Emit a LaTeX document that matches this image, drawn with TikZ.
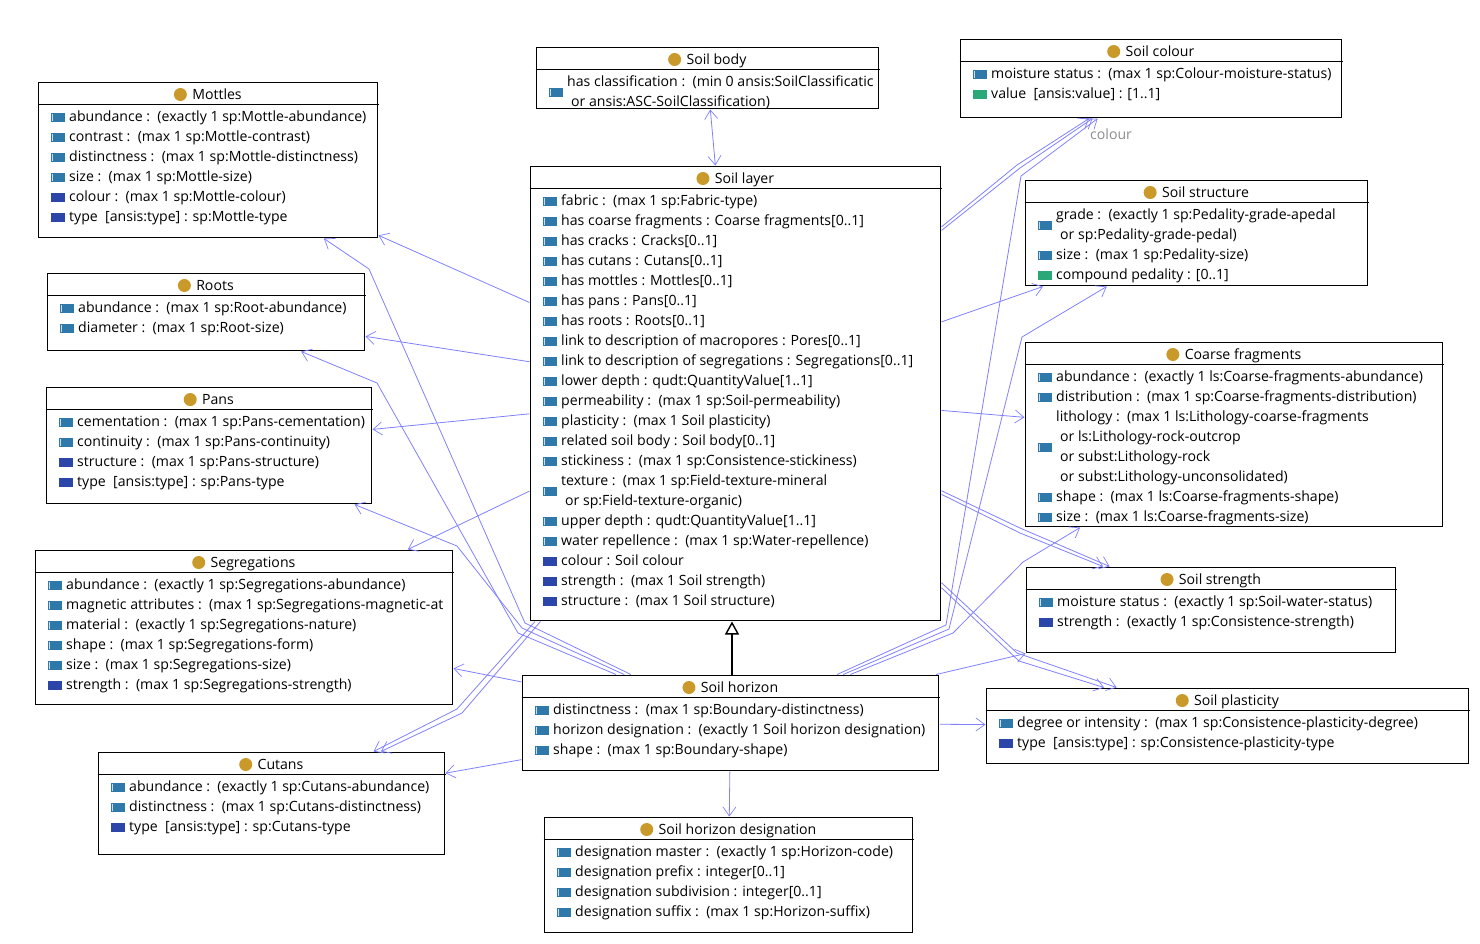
\documentclass[tikz,border=0pt]{standalone}
\usepackage{fontspec}
\setmainfont{Open Sans}
\usetikzlibrary{positioning,arrows.meta}
\definecolor{classgold}{RGB}{201,154,42}
\definecolor{propblue}{RGB}{46,120,170}
\definecolor{propdark}{RGB}{43,69,168}
\definecolor{propgreen}{RGB}{42,168,120}
\definecolor{assocline}{RGB}{128,128,255}
\tikzset{%
    umlbox/.style={draw=black, line width=1pt, inner sep=0pt, outer sep=1pt},
    umltitle/.style={inner sep=0pt, font=\fontsize{14.1}{16}\selectfont, text height=11pt, text depth=3pt},
    umldot/.style={circle, fill=classgold, inner sep=0pt, minimum size=13pt, yshift=1pt},
    rowtext/.style={anchor=west, inner sep=0pt, font=\fontsize{14.1}{16}\selectfont, text height=11pt, text depth=3pt},
    rowicon/.style={anchor=west, inner sep=0pt, minimum width=14pt, minimum height=9pt},
    objprop/.style={rowicon, fill=propblue, path picture={%
        \fill[white!75!propblue] ([xshift=1.2pt,yshift=-1pt]path picture bounding box.north west)
            rectangle ([xshift=2.2pt,yshift=1pt]path picture bounding box.south west);}},
    darkprop/.style={rowicon, fill=propdark},
    dataprop/.style={rowicon, fill=propgreen},
    assoc/.style={assocline, line width=0.8pt, -{Straight Barb[length=9pt,width=13pt,line width=0.7pt]}},
    both/.style={assoc, {Straight Barb[length=9pt,width=13pt,line width=0.7pt]}-{Straight Barb[length=9pt,width=13pt,line width=0.7pt]}},
    isa/.style={line width=2pt, -{Triangle[fill=white,length=13pt,width=14pt,line width=1.4pt]}}
}
% name, centre x, centre y, width, height, title
\newcommand{\umlclass}[6]{%
    \node[umlbox, minimum width=#4pt-1pt, minimum height=#5pt-1pt] (#1) at (#2,#3) {};
    \node[umltitle] (#1-title) at ([xshift=9pt,yshift=-14pt]#1.north) {#6};
    \node[umldot, left=5pt of #1-title] (#1-dot) {};
    \draw[line width=1pt] ([yshift=-23pt]#1.north west) -- ([yshift=-23pt]#1.north east);
}
% box, row, kind of icon
\newcommand{\rowmark}[3]{%
    \node[#3] (#1-i#2) at ([xshift=13.5pt,yshift={-16pt-20pt*#2}]#1.north west) {};
}
% box, row, indent, text
\newcommand{\rowline}[4]{%
    \node[rowtext] (#1-t#2) at ([xshift={31.5pt+#3pt},yshift={-16pt-20pt*#2}]#1.north west) {#4};
}
\newcommand{\attr}[4]{\rowmark{#1}{#2}{#3}\rowline{#1}{#2}{0}{#4}}

\begin{document}
\begin{tikzpicture}[x=1pt,y=-1pt]
    \useasboundingbox (0,0) rectangle (1480,943);

    \umlclass{mottles}{208}{160}{340}{156}{Mottles}
    \attr{mottles}{1}{objprop}{abundance :~~(exactly 1 sp:Mottle-abundance)}
    \attr{mottles}{2}{objprop}{contrast :~~(max 1 sp:Mottle-contrast)}
    \attr{mottles}{3}{objprop}{distinctness :~~(max 1 sp:Mottle-distinctness)}
    \attr{mottles}{4}{objprop}{size :~~(max 1 sp:Mottle-size)}
    \attr{mottles}{5}{darkprop}{colour :~~(max 1 sp:Mottle-colour)}
    \attr{mottles}{6}{darkprop}{type~~[ansis:type] : sp:Mottle-type}

    \umlclass{roots}{206}{312}{318}{78}{Roots}
    \attr{roots}{1}{objprop}{abundance :~~(max 1 sp:Root-abundance)}
    \attr{roots}{2}{objprop}{diameter :~~(max 1 sp:Root-size)}

    \umlclass{pans}{209}{445.5}{326}{117}{Pans}
    \attr{pans}{1}{objprop}{cementation :~~(max 1 sp:Pans-cementation)}
    \attr{pans}{2}{objprop}{continuity :~~(max 1 sp:Pans-continuity)}
    \attr{pans}{3}{darkprop}{structure :~~(max 1 sp:Pans-structure)}
    \attr{pans}{4}{darkprop}{type~~[ansis:type] : sp:Pans-type}

    \umlclass{segregations}{244}{627.5}{418}{155}{Segregations}
    \attr{segregations}{1}{objprop}{abundance :~~(exactly 1 sp:Segregations-abundance)}
    \attr{segregations}{2}{objprop}{magnetic attributes :~~(max 1 sp:Segregations-magnetic-at}
    \attr{segregations}{3}{objprop}{material :~~(exactly 1 sp:Segregations-nature)}
    \attr{segregations}{4}{objprop}{shape :~~(max 1 sp:Segregations-form)}
    \attr{segregations}{5}{objprop}{size :~~(max 1 sp:Segregations-size)}
    \attr{segregations}{6}{darkprop}{strength :~~(max 1 sp:Segregations-strength)}

    \umlclass{cutans}{271.5}{803.5}{347}{103}{Cutans}
    \attr{cutans}{1}{objprop}{abundance :~~(exactly 1 sp:Cutans-abundance)}
    \attr{cutans}{2}{objprop}{distinctness :~~(max 1 sp:Cutans-distinctness)}
    \attr{cutans}{3}{darkprop}{type~~[ansis:type] : sp:Cutans-type}

    \umlclass{body}{707.5}{78}{343}{62}{Soil body}
    \rowmark{body}{1.5}{objprop}
    \rowline{body}{1}{0}{has classification :~~(min 0 ansis:SoilClassificatic}
    \rowline{body}{2}{4}{or ansis:ASC-SoilClassification)}

    \umlclass{layer}{735.5}{393.5}{411}{455}{Soil layer}
    \attr{layer}{1}{objprop}{fabric :~~(max 1 sp:Fabric-type)}
    \attr{layer}{2}{objprop}{has coarse fragments : Coarse fragments[0..1]}
    \attr{layer}{3}{objprop}{has cracks : Cracks[0..1]}
    \attr{layer}{4}{objprop}{has cutans : Cutans[0..1]}
    \attr{layer}{5}{objprop}{has mottles : Mottles[0..1]}
    \attr{layer}{6}{objprop}{has pans : Pans[0..1]}
    \attr{layer}{7}{objprop}{has roots : Roots[0..1]}
    \attr{layer}{8}{objprop}{link to description of macropores : Pores[0..1]}
    \attr{layer}{9}{objprop}{link to description of segregations : Segregations[0..1]}
    \attr{layer}{10}{objprop}{lower depth : qudt:QuantityValue[1..1]}
    \attr{layer}{11}{objprop}{permeability :~~(max 1 sp:Soil-permeability)}
    \attr{layer}{12}{objprop}{plasticity :~~(max 1 Soil plasticity)}
    \attr{layer}{13}{objprop}{related soil body : Soil body[0..1]}
    \attr{layer}{14}{objprop}{stickiness :~~(max 1 sp:Consistence-stickiness)}
    \rowmark{layer}{15.5}{objprop}
    \rowline{layer}{15}{0}{texture :~~(max 1 sp:Field-texture-mineral}
    \rowline{layer}{16}{4}{or sp:Field-texture-organic)}
    \attr{layer}{17}{objprop}{upper depth : qudt:QuantityValue[1..1]}
    \attr{layer}{18}{objprop}{water repellence :~~(max 1 sp:Water-repellence)}
    \attr{layer}{19}{darkprop}{colour : Soil colour}
    \attr{layer}{20}{darkprop}{strength :~~(max 1 Soil strength)}
    \attr{layer}{21}{darkprop}{structure :~~(max 1 Soil structure)}

    \umlclass{colour}{1151}{78.5}{382}{79}{Soil colour}
    \attr{colour}{1}{objprop}{moisture status :~~(max 1 sp:Colour-moisture-status)}
    \attr{colour}{2}{dataprop}{value~~[ansis:value] : [1..1]}

    \umlclass{structure}{1196.5}{233}{343}{106}{Soil structure}
    \rowmark{structure}{1.5}{objprop}
    \rowline{structure}{1}{0}{grade :~~(exactly 1 sp:Pedality-grade-apedal}
    \rowline{structure}{2}{4}{or sp:Pedality-grade-pedal)}
    \attr{structure}{3}{objprop}{size :~~(max 1 sp:Pedality-size)}
    \attr{structure}{4}{dataprop}{compound pedality : [0..1]}

    \umlclass{coarse}{1234}{434.5}{418}{185}{Coarse fragments}
    \attr{coarse}{1}{objprop}{abundance :~~(exactly 1 ls:Coarse-fragments-abundance)}
    \attr{coarse}{2}{objprop}{distribution :~~(max 1 sp:Coarse-fragments-distribution)}
    \rowmark{coarse}{4.5}{objprop}
    \rowline{coarse}{3}{0}{lithology :~~(max 1 ls:Lithology-coarse-fragments}
    \rowline{coarse}{4}{4}{or ls:Lithology-rock-outcrop}
    \rowline{coarse}{5}{4}{or subst:Lithology-rock}
    \rowline{coarse}{6}{4}{or subst:Lithology-unconsolidated)}
    \attr{coarse}{7}{objprop}{shape :~~(max 1 ls:Coarse-fragments-shape)}
    \attr{coarse}{8}{objprop}{size :~~(max 1 ls:Coarse-fragments-size)}

    \umlclass{strength}{1211}{610}{370}{86}{Soil strength}
    \attr{strength}{1}{objprop}{moisture status :~~(exactly 1 sp:Soil-water-status)}
    \attr{strength}{2}{darkprop}{strength :~~(exactly 1 sp:Consistence-strength)}

    \umlclass{plasticity}{1227.5}{726}{483}{76}{Soil plasticity}
    \attr{plasticity}{1}{objprop}{degree or intensity :~~(max 1 sp:Consistence-plasticity-degree)}
    \attr{plasticity}{2}{darkprop}{type~~[ansis:type] : sp:Consistence-plasticity-type}

    \umlclass{horizon}{730.5}{723}{417}{96}{Soil horizon}
    \attr{horizon}{1}{objprop}{distinctness :~~(max 1 sp:Boundary-distinctness)}
    \attr{horizon}{2}{objprop}{horizon designation :~~(exactly 1 Soil horizon designation)}
    \attr{horizon}{3}{objprop}{shape :~~(max 1 sp:Boundary-shape)}

    \umlclass{designation}{728.5}{875}{369}{116}{Soil horizon designation}
    \attr{designation}{1}{objprop}{designation master :~~(exactly 1 sp:Horizon-code)}
    \attr{designation}{2}{objprop}{designation prefix : integer[0..1]}
    \attr{designation}{3}{objprop}{designation subdivision : integer[0..1]}
    \attr{designation}{4}{objprop}{designation suffix :~~(max 1 sp:Horizon-suffix)}

    % bends of the long connectors
    \coordinate (mottlesA) at (525,623);
    \coordinate (mottlesB) at (369,269);
    \coordinate (rootsA) at (518,633);
    \coordinate (rootsB) at (377,383);
    \coordinate (pansA) at (522,628);
    \coordinate (pansB) at (457,546);
    \coordinate (cutansA) at (457,709);
    \coordinate (cutansB) at (462,713);
    \coordinate (colourA) at (1017,165);
    \coordinate (colourB) at (1020,168);
    \coordinate (colourC) at (946,625);
    \coordinate (colourD) at (1021,176);
    \coordinate (structA) at (949,629);
    \coordinate (structB) at (1022,337);
    \coordinate (coarseA) at (953,633);
    \coordinate (coarseB) at (1023,562);
    \coordinate (strengthA) at (1020,528);
    \coordinate (strengthB) at (1020,533);
    \coordinate (plastA) at (1017,653);
    \coordinate (plastB) at (1019,661);
    \coordinate (gen) at (732,0);

    \draw[both] (body) -- (layer);
    \draw[assoc] (layer) -- (mottles);
    \draw[assoc] (layer) -- (roots);
    \draw[assoc] (layer) -- (pans);
    \draw[assoc] (layer) -- (segregations);
    \draw[assoc] (layer) -- (cutansA) -- (cutans);
    \draw[assoc] (layer) -- (cutansB) -- (cutans);
    \draw[assoc] (layer) -- (colourA) -- (colour);
    \draw[assoc] (layer) -- (colourB) -- (colour);
    \draw[assoc] (layer) -- (structure);
    \draw[assoc] (layer) -- (coarse);
    \draw[assoc] (layer) -- (strengthA) -- (strength);
    \draw[assoc] (layer) -- (strengthB) -- (strength);
    \draw[assoc] (layer) -- (plastA) -- (plasticity);
    \draw[assoc] (layer) -- (plastB) -- (plasticity);
    \draw[assoc] (horizon) -- (mottlesA) -- (mottlesB) -- (mottles);
    \draw[assoc] (horizon) -- (rootsA) -- (rootsB) -- (roots);
    \draw[assoc] (horizon) -- (pansA) -- (pansB) -- (pans);
    \draw[assoc] (horizon) -- (segregations);
    \draw[assoc] (horizon) -- (cutans);
    \draw[assoc] (horizon) -- (colourC) -- (colourD) -- (colour);
    \draw[assoc] (horizon) -- (structA) -- (structB) -- (structure);
    \draw[assoc] (horizon) -- (coarseA) -- (coarseB) -- (coarse);
    \draw[assoc] (horizon) -- (strength);
    \draw[assoc] (horizon) -- (plasticity);
    \draw[assoc] (horizon) -- (designation);
    \draw[isa] (gen |- horizon.north) -- (gen |- layer.south);
    \node[rowtext, text=black!45] (colourlabel) at (1090,135) {colour};
\end{tikzpicture}
\end{document}
